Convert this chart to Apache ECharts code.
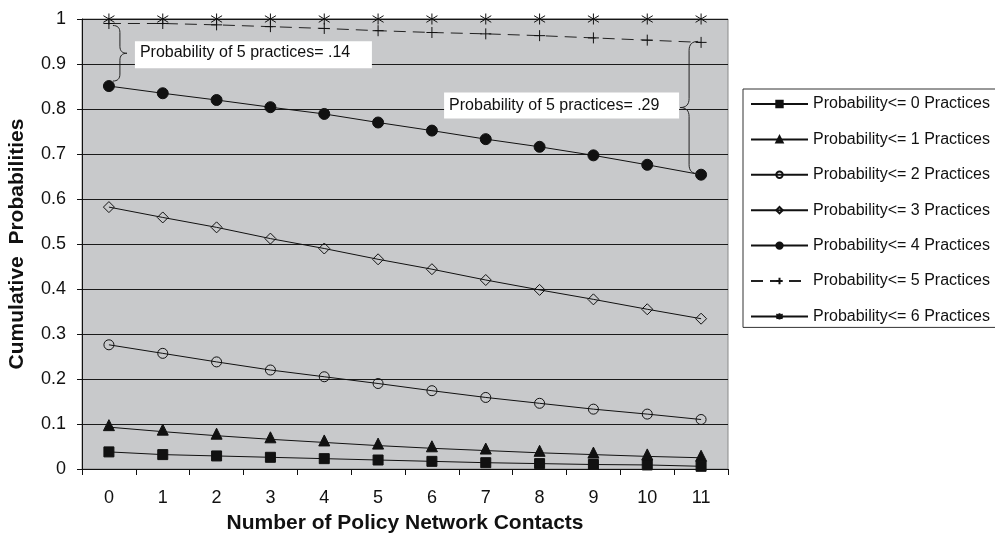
<!DOCTYPE html>
<html>
<head>
<meta charset="utf-8">
<script src="https://cdn.jsdelivr.net/npm/echarts@6/dist/echarts.min.js"></script>
<style>
html,body{margin:0;padding:0;background:#fff;}
#main{width:995px;height:537px;}
</style>
</head>
<body>
<div id="main"></div>
<script>
const categories = ['0','1','2','3','4','5','6','7','8','9','10','11'];
const seriesNames = [
  'Probability<= 0 Practices',
  'Probability<= 1 Practices',
  'Probability<= 2 Practices',
  'Probability<= 3 Practices',
  'Probability<= 4 Practices',
  'Probability<= 5 Practices',
  'Probability<= 6 Practices'
];
const p0 = [0.038,0.032,0.029,0.026,0.023,0.020,0.017,0.014,0.012,0.010,0.009,0.006];
const p1 = [0.093,0.083,0.074,0.066,0.059,0.052,0.046,0.041,0.036,0.032,0.028,0.025];
const p2 = [0.276,0.257,0.238,0.220,0.205,0.190,0.174,0.159,0.146,0.133,0.122,0.110];
const p3 = [0.582,0.559,0.537,0.512,0.490,0.466,0.444,0.420,0.398,0.377,0.355,0.334];
const p4 = [0.851,0.835,0.820,0.804,0.789,0.770,0.752,0.733,0.716,0.697,0.676,0.654];
const p5 = [0.990,0.990,0.987,0.983,0.979,0.974,0.970,0.967,0.963,0.958,0.953,0.948];
const p6 = [1,1,1,1,1,1,1,1,1,1,1,1];
const yTicks = ['0','0.1','0.2','0.3','0.4','0.5','0.6','0.7','0.8','0.9','1'];
const annotation1 = 'Probability of 5 practices= .14';
const annotation2 = 'Probability of 5 practices= .29';

const FONT = 'Liberation Sans, Arial, sans-serif';
const chart = echarts.init(document.getElementById('main'));

function mk(name, data, symbol, size, fill, extra) {
  return Object.assign({
    name: name,
    type: 'line',
    data: data,
    symbol: symbol,
    symbolSize: size,
    showAllSymbol: true,
    animation: false,
    lineStyle: {color: '#111', width: 1},
    itemStyle: {color: fill, borderColor: '#111', borderWidth: 1},
    emphasis: {disabled: true}
  }, extra || {});
}

const plusPath = 'path://M5,0L5,10M0,5L10,5';
const starPath = 'path://M5,0L5,10M0,2L10,8M0,8L10,2';

const option = {
  animation: false,
  backgroundColor: '#fff',
  textStyle: {fontFamily: FONT},
  grid: {
    left: 82, right: 267, top: 19, bottom: 68,
    containLabel: false,
    outerBoundsMode: 'none',
    show: true, backgroundColor: '#c8c9cb', borderColor: '#8a8a8a', borderWidth: 1
  },
  legend: {
    orient: 'vertical',
    left: 743, top: 89,
    padding: [7, 40, 3, 7],
    itemWidth: 57, itemHeight: 8, itemGap: 19.4,
    backgroundColor: '#fff',
    borderColor: '#333', borderWidth: 1, borderRadius: 0,
    textStyle: {fontFamily: FONT, fontSize: 16, color: '#111'},
    data: seriesNames
  },
  xAxis: {
    type: 'category',
    data: categories,
    boundaryGap: true,
    name: 'Number of Policy Network Contacts',
    nameLocation: 'middle',
    nameGap: 44,
    nameTextStyle: {fontFamily: FONT, fontSize: 21, fontWeight: 'bold', color: '#111'},
    axisLine: {show: true, lineStyle: {color: '#111', width: 1}},
    axisTick: {show: true, length: 6, alignWithLabel: false, lineStyle: {color: '#111'}},
    axisLabel: {fontFamily: FONT, fontSize: 18, color: '#111', margin: 20},
    splitLine: {show: false}
  },
  yAxis: {
    type: 'value',
    min: 0, max: 1, interval: 0.1,
    name: 'Cumulative  Probabilities',
    nameLocation: 'middle',
    nameGap: 54,
    nameTextStyle: {fontFamily: FONT, fontSize: 21, fontWeight: 'bold', color: '#111'},
    axisLine: {show: true, lineStyle: {color: '#111', width: 1}},
    axisTick: {show: true, length: 5, lineStyle: {color: '#111'}},
    axisLabel: {
      fontFamily: FONT, fontSize: 18, color: '#111', margin: 16,
      formatter: function (v) { return yTicks[Math.round(v * 10)]; }
    },
    splitLine: {show: true, lineStyle: {color: '#1a1a1a', width: 1}}
  },
  series: [
    mk(seriesNames[0], p0, 'rect', 10, '#111'),
    mk(seriesNames[1], p1, 'triangle', 11, '#111', {symbolOffset: [0, -2]}),
    mk(seriesNames[2], p2, 'circle', 10, 'rgba(0,0,0,0)'),
    mk(seriesNames[3], p3, 'diamond', 11, 'rgba(0,0,0,0)'),
    mk(seriesNames[4], p4, 'circle', 11, '#111'),
    mk(seriesNames[5], p5, plusPath, 11, 'rgba(0,0,0,0)', {
      lineStyle: {color: '#222', width: 1, type: [12, 7]}
    }),
    mk(seriesNames[6], p6, starPath, 11, 'rgba(0,0,0,0)')
  ]
};
chart.setOption(option);

function px(i, v) { return chart.convertToPixel({xAxisIndex: 0, yAxisIndex: 0}, [i, v]); }

// sample quadratic bezier
function quad(pts, a, c, b) {
  for (let k = 1; k <= 8; k++) {
    const t = k / 8, u = 1 - t;
    pts.push([u * u * a[0] + 2 * u * t * c[0] + t * t * b[0],
              u * u * a[1] + 2 * u * t * c[1] + t * t * b[1]]);
  }
}
// dir = +1: "}" (tip to the right), dir = -1: "{" (tip to the left)
function brace(x, top, bot, r, dir) {
  const mid = (top + bot) / 2;
  const pts = [[x - dir * r, top]];
  quad(pts, [x - dir * r, top], [x, top], [x, top + r]);
  pts.push([x, mid - r]);
  quad(pts, [x, mid - r], [x, mid], [x + dir * r, mid]);
  quad(pts, [x + dir * r, mid], [x, mid], [x, mid + r]);
  pts.push([x, bot - r]);
  quad(pts, [x, bot - r], [x, bot], [x - dir * r, bot]);
  return pts;
}

const a5 = px(0, p5[0]), a4 = px(0, p4[0]);
const b5 = px(11, p5[11]), b4 = px(11, p4[11]);
const bx1 = a5[0] + 11, by1t = a5[1] + 2, by1b = a4[1] - 5;
const bx2 = b5[0] - 12, by2t = b5[1] - 1, by2b = b4[1] - 1;
const mid1 = (by1t + by1b) / 2, mid2 = (by2t + by2b) / 2;

chart.setOption({
  graphic: [
    {type: 'polyline', z: 50, silent: true, shape: {points: brace(bx1, by1t, by1b, 7, 1)},
     style: {fill: null, stroke: '#222', lineWidth: 1}},
    {type: 'polyline', z: 50, silent: true, shape: {points: brace(bx2, by2t, by2b, 9, -1)},
     style: {fill: null, stroke: '#222', lineWidth: 1}},
    {type: 'rect', z: 50, silent: true,
     shape: {x: bx1 + 15, y: mid1 - 12, width: 237, height: 27},
     style: {fill: '#fff', stroke: null}},
    {type: 'text', z: 51, silent: true, x: bx1 + 20, y: mid1 - 0.5,
     style: {text: annotation1, font: '16px Liberation Sans, Arial, sans-serif', fill: '#111', verticalAlign: 'middle'}},
    {type: 'rect', z: 50, silent: true,
     shape: {x: bx2 - 10 - 235, y: mid2 - 15, width: 235, height: 26},
     style: {fill: '#fff', stroke: null}},
    {type: 'text', z: 51, silent: true, x: bx2 - 10 - 230, y: mid2 - 2,
     style: {text: annotation2, font: '16px Liberation Sans, Arial, sans-serif', fill: '#111', verticalAlign: 'middle'}}
  ]
});
</script>
</body>
</html>
